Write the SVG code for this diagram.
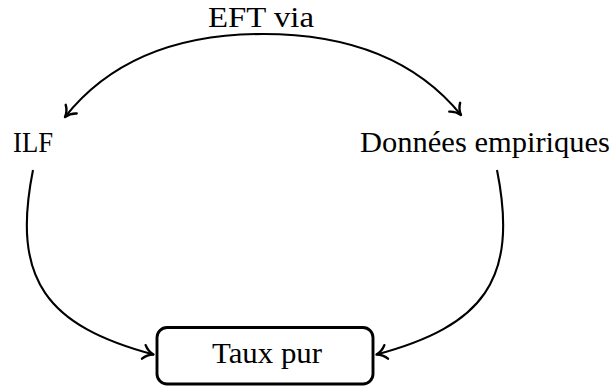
<svg xmlns="http://www.w3.org/2000/svg" width="616" height="389" viewBox="0 0 616 389">
  <style>
    .lbl { font-family: "Liberation Serif", "DejaVu Serif", serif; font-size: 29px; fill: #000; text-anchor: middle; }
    .edge { fill: none; stroke: #000; stroke-width: 2.1; marker-end: url(#arrow); }
    .box { fill: #fff; stroke: #000; stroke-width: 2.9; }
  </style>
  <defs>
    <marker id="arrow" viewBox="-12 -9 14 18" refX="0" refY="0" markerWidth="14" markerHeight="18" markerUnits="userSpaceOnUse" orient="auto">
      <path d="M -10,-7 C -7,-2.8 -2.8,-0.8 0,0 C -2.8,0.8 -7,2.8 -10,7" fill="none" stroke="#000" stroke-width="2.4" stroke-linecap="round" stroke-linejoin="round"/>
    </marker>
  </defs>

  <g id="connectors">
    <!-- two-way bend between the upper nodes -->
    <path class="edge" d="M 263,34 C 307,34 400,40 461,115"/>
    <path class="edge" d="M 263,34 C 219,34 126,40 65,117"/>
    <!-- bends down into the result box -->
    <path class="edge" d="M 33,170 C 11,280 47,326 153.5,354.5"/>
    <path class="edge" d="M 497,170 C 519,280 483,326 376.5,354.5"/>
  </g>

  <g id="node-eft">
    <text class="lbl" x="261" y="27" textLength="106" lengthAdjust="spacingAndGlyphs">EFT via</text>
  </g>
  <g id="node-ilf">
    <text class="lbl" x="33" y="152" textLength="40" lengthAdjust="spacingAndGlyphs">ILF</text>
  </g>
  <g id="node-donnees">
    <text class="lbl" x="485" y="152" textLength="250" lengthAdjust="spacingAndGlyphs">Données empiriques</text>
  </g>
  <g id="node-taux">
    <rect class="box" x="157" y="327.5" width="216" height="56.5" rx="10" ry="10"/>
    <text class="lbl" x="267" y="363" textLength="110" lengthAdjust="spacingAndGlyphs">Taux pur</text>
  </g>
</svg>
